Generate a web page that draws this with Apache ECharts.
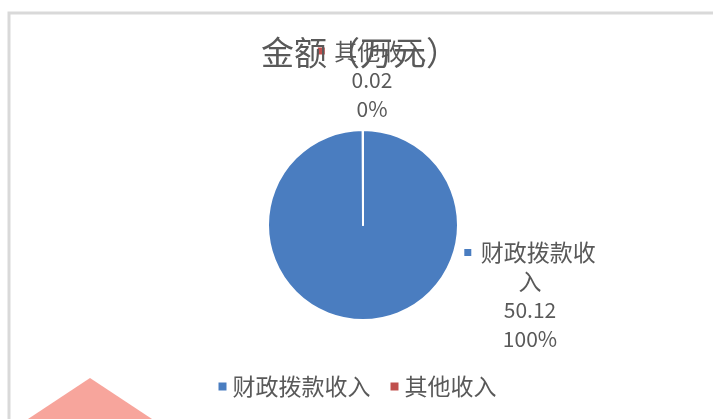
<!doctype html>
<html>
<head>
<meta charset="utf-8">
<title>金额（万元）</title>
<script src="https://cdn.jsdelivr.net/npm/echarts@6/dist/echarts.min.js"></script>
<style>
  html, body { margin: 0; padding: 0; background: #fff; }
  #chart { width: 713px; height: 419px; }
</style>
</head>
<body>
<div id="chart"></div>
<script>
// 数据
var categories = ['财政拨款收入', '其他收入'];
var amounts = [50.12, 0.02];
var colors = ['#4A7DC0', '#C0504D'];

var font = '"Noto Sans CJK SC", "Noto Sans", sans-serif';

var myChart = echarts.init(document.getElementById('chart'));

var pieData = categories.map(function (name, i) {
    return { name: name, value: amounts[i], itemStyle: { color: colors[i] } };
});

// 标签里名称按5个字折行
function wrapName(name) {
    var parts = [];
    for (var i = 0; i < name.length; i += 5) parts.push(name.substr(i, 5));
    return parts;
}

var option = {
    backgroundColor: '#fff',
    textStyle: { fontFamily: font },
    title: {
        text: '金额（万元）',
        left: 355,
        top: 31,
        textAlign: 'center',
        textStyle: { fontSize: 33, fontWeight: 'normal', color: '#595959', fontFamily: font }
    },
    legend: {
        data: categories,
        bottom: 16,
        left: 'center',
        icon: 'rect',
        itemWidth: 10,
        itemHeight: 10,
        itemGap: 18,
        textStyle: { fontSize: 23, color: '#595959', fontFamily: font }
    },
    graphic: [
        {
            type: 'rect',
            shape: { x: 9, y: 13, width: 720, height: 420 },
            style: { fill: 'none', stroke: '#d9d9d9', lineWidth: 3 },
            silent: true
        },
        {
            type: 'polygon',
            shape: { points: [[28, 419], [90, 378], [152, 419]] },
            style: { fill: '#f7a59c' },
            silent: true
        }
    ],
    series: [
        {
            type: 'pie',
            center: [363, 225],
            radius: 95,
            startAngle: 90,
            clockwise: true,
            percentPrecision: 0,
            avoidLabelOverlap: false,
            itemStyle: { borderColor: '#fff', borderWidth: 2 },
            label: {
                show: true,
                position: 'outside',
                color: '#595959',
                fontSize: 21,
                lineHeight: 29,
                align: 'center',
                fontFamily: font,
                formatter: function (p) {
                    var lines = wrapName(p.name);
                    var key = p.dataIndex === 0 ? '{m0|}' : '{m1|}';
                    var s = key + '  ' + lines.map(function (l) { return '{t|' + l + '}'; }).join('\n');
                    return s + '\n' + p.value + '\n' + p.percent + '%';
                },
                rich: {
                    m0: { width: 7, height: 7, backgroundColor: colors[0], borderColor: '#fff', borderWidth: 2 },
                    m1: { width: 7, height: 7, backgroundColor: colors[1] },
                    t: { fontSize: 23, color: '#595959', lineHeight: 29 }
                }
            },
            labelLine: { show: false },
            labelLayout: function (params) {
                if (params.dataIndex === 0) {
                    return { x: 530, y: 296, align: 'center', verticalAlign: 'middle' };
                }
                return { x: 372, y: 80, align: 'center', verticalAlign: 'middle' };
            },
            emphasis: { disabled: true },
            data: pieData
        }
    ]
};

myChart.setOption(option);
</script>
</body>
</html>
